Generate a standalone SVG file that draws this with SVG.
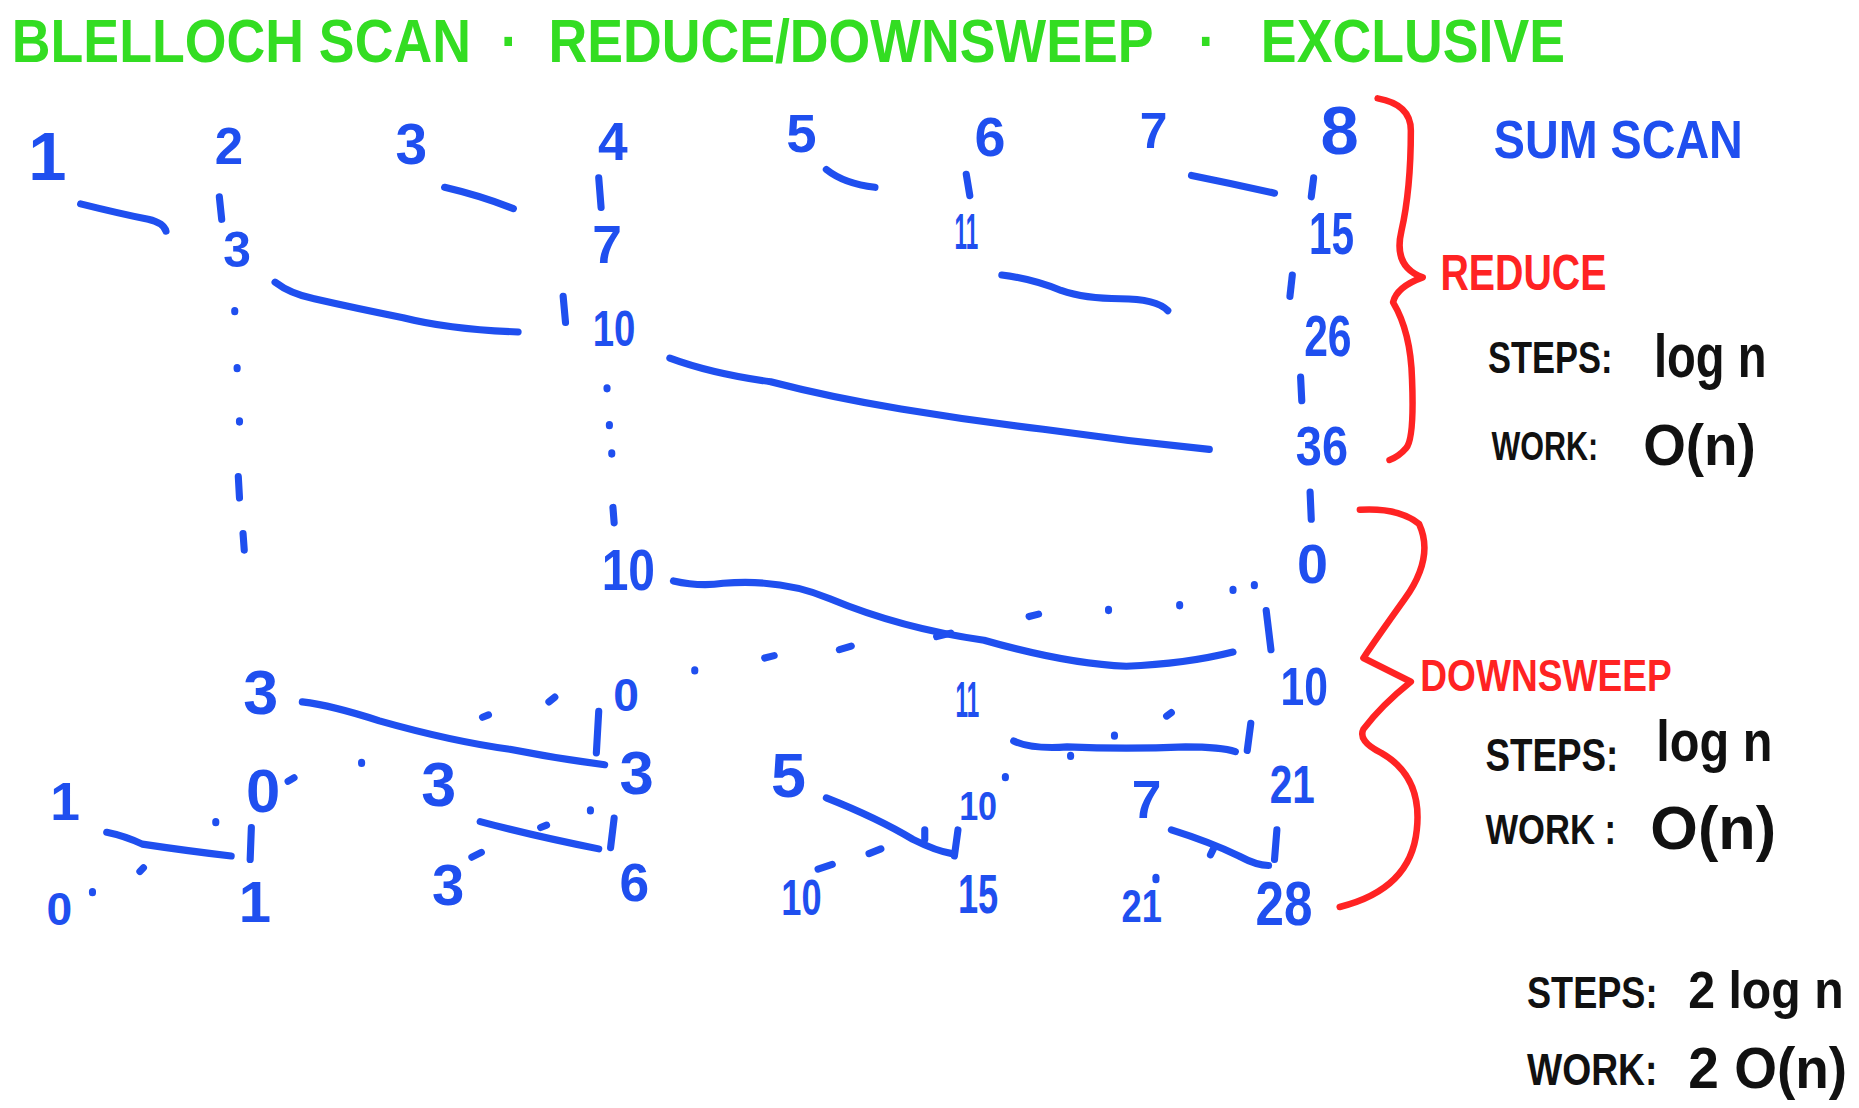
<svg xmlns="http://www.w3.org/2000/svg" width="1859" height="1108" viewBox="0 0 1859 1108">
<style>
.d{font-family:"Liberation Sans",Arial,sans-serif;font-weight:bold;fill:#1f4fef;text-anchor:middle}
.t{font-family:"Liberation Sans",Arial,sans-serif;font-weight:bold}
.g{fill:#33dd22}.r{fill:#ff2323}.b{fill:#1f4fef}.k{fill:#111}
.s{fill:none;stroke:#1f4fef;stroke-width:6;stroke-linecap:round;stroke-linejoin:round}
.dot{fill:none;stroke:#1f4fef;stroke-width:6;stroke-linecap:round}
.br{fill:none;stroke:#ff2323;stroke-width:5.5;stroke-linecap:round;stroke-linejoin:round}
</style>
<rect width="1859" height="1108" fill="#fff"/>
<g transform="scale(1.18559)">
<g id="title">
<text class="t g" x="10" y="52" font-size="52" textLength="1310" lengthAdjust="spacingAndGlyphs">BLELLOCH SCAN&#160;&#160;·&#160;&#160;REDUCE/DOWNSWEEP&#160;&#160;&#160;·&#160;&#160;&#160;EXCLUSIVE</text>
</g>
<g id="connectors">
<path class="s" d="M68,172 Q100,180 125,185 Q138,188 140,195"/>
<path class="s" d="M185,166 L187,185"/>
<path class="s" d="M375,158 Q405,165 433,176"/>
<path class="s" d="M505,150 L507,175"/>
<path class="s" d="M697,143 Q712,155 738,158"/>
<path class="s" d="M815,147 L818,165"/>
<path class="s" d="M1005,148 Q1040,155 1075,163"/>
<path class="s" d="M1108,150 L1106,166"/>
<path class="s" d="M232,238 Q245,248 265,252 Q300,260 340,268 Q380,278 437,280"/>
<path class="s" d="M475,250 L477,272"/>
<path class="s" d="M845,232 Q870,235 895,245 Q915,252 945,252 Q975,252 985,262"/>
<path class="s" d="M1090,232 L1088,250"/>
<path class="s" d="M565,302 Q600,315 650,322 Q700,335 760,345 Q820,355 880,362 Q950,372 1020,379"/>
<path class="s" d="M1097,318 L1098,338"/>
<path class="dot" d="M198,262 l0,1 M200,310 l0,1 M202,355 l0,1 M201,402 l1,18 M205,450 l1,14"/>
<path class="dot" d="M512,327 l0,1 M514,358 l0,1 M516,382 l0,1 M517,428 l1,13"/>
<path class="s" d="M1105,415 L1106,438"/>
<path class="s" d="M568,490 Q590,495 610,492 Q660,488 700,505 Q760,530 830,540 Q900,560 950,562 Q1000,560 1040,550"/>
<path class="s" d="M790,537 l12,-3"/>
<path class="dot" d="M1058,493 l0,1 M1040,497 l0,1 M995,510 l0,1 M935,514 l0,1 M868,520 l8,-2 M708,548 l10,-3 M645,555 l8,-2 M586,565 l0,1"/>
<path class="s" d="M1068,515 L1072,548"/>
<path class="s" d="M255,592 Q280,595 320,608 Q380,625 430,632 Q470,640 510,645"/>
<path class="dot" d="M463,592 l5,-4 M407,605 l5,-2"/>
<path class="s" d="M505,600 L503,635"/>
<path class="s" d="M855,625 Q870,632 900,630 Q950,632 1000,630 Q1030,630 1042,634"/>
<path class="dot" d="M984,604 l4,-3 M940,620 l0,1 M903,637 l0,1 M848,655 l0,1"/>
<path class="s" d="M1055,610 L1052,633"/>
<path class="s" d="M90,702 Q105,705 120,712 Q160,718 195,722"/>
<path class="s" d="M212,698 L211,725"/>
<path class="dot" d="M182,693 l0,1 M118,735 l3,-3 M78,752 l0,1 M243,659 l5,-3 M305,643 l0,1"/>
<path class="s" d="M405,693 Q450,705 505,716"/>
<path class="s" d="M518,690 L515,715"/>
<path class="dot" d="M498,683 l0,1 M456,698 l5,-2 M398,723 l8,-4"/>
<path class="s" d="M697,673 Q740,690 770,708 Q790,718 803,720"/>
<path class="s" d="M780,700 l0,8"/>
<path class="s" d="M808,700 L805,722"/>
<path class="dot" d="M690,733 l12,-4 M733,720 l10,-4"/>
<path class="s" d="M988,700 Q1020,710 1045,722 Q1060,730 1070,730"/>
<path class="s" d="M1024,715 l-3,6"/>
<path class="s" d="M1077,700 L1075,725"/>
<path class="dot" d="M975,740 l0,2"/>
</g>
<g id="numbers">
<text class="d" x="40" y="152" font-size="58">1</text>
<text class="d" x="193" y="138" font-size="43">2</text>
<text class="d" x="347" y="138" font-size="48">3</text>
<text class="d" x="517" y="135" font-size="45">4</text>
<text class="d" x="676" y="128" font-size="46">5</text>
<text class="d" x="835" y="132" font-size="47">6</text>
<text class="d" x="973" y="125" font-size="42">7</text>
<text class="d" x="1130" y="130" font-size="58">8</text>
<text class="d" x="200" y="225" font-size="42">3</text>
<text class="d" x="512" y="222" font-size="45">7</text>
<text class="d" x="815" y="210" font-size="42" textLength="20" lengthAdjust="spacingAndGlyphs">11</text>
<text class="d" x="1123" y="214" font-size="50" textLength="38" lengthAdjust="spacingAndGlyphs">15</text>
<text class="d" x="518" y="292" font-size="42" textLength="36" lengthAdjust="spacingAndGlyphs">10</text>
<text class="d" x="1120" y="300" font-size="49" textLength="40" lengthAdjust="spacingAndGlyphs">26</text>
<text class="d" x="1115" y="392" font-size="47" textLength="44" lengthAdjust="spacingAndGlyphs">36</text>
<text class="d" x="1107" y="492" font-size="47">0</text>
<text class="d" x="530" y="498" font-size="49" textLength="45" lengthAdjust="spacingAndGlyphs">10</text>
<text class="d" x="1100" y="595" font-size="46" textLength="40" lengthAdjust="spacingAndGlyphs">10</text>
<text class="d" x="220" y="602" font-size="53">3</text>
<text class="d" x="528" y="600" font-size="39">0</text>
<text class="d" x="816" y="605" font-size="42" textLength="20" lengthAdjust="spacingAndGlyphs">11</text>
<text class="d" x="537" y="670" font-size="52">3</text>
<text class="d" x="1090" y="677" font-size="45" textLength="38" lengthAdjust="spacingAndGlyphs">21</text>
<text class="d" x="55" y="692" font-size="45">1</text>
<text class="d" x="222" y="685" font-size="52">0</text>
<text class="d" x="370" y="680" font-size="53">3</text>
<text class="d" x="665" y="672" font-size="53">5</text>
<text class="d" x="825" y="692" font-size="34" textLength="32" lengthAdjust="spacingAndGlyphs">10</text>
<text class="d" x="967" y="690" font-size="45">7</text>
<text class="d" x="50" y="780" font-size="39">0</text>
<text class="d" x="215" y="778" font-size="49">1</text>
<text class="d" x="378" y="763" font-size="49">3</text>
<text class="d" x="535" y="760" font-size="45">6</text>
<text class="d" x="676" y="772" font-size="42" textLength="34" lengthAdjust="spacingAndGlyphs">10</text>
<text class="d" x="825" y="770" font-size="47" textLength="34" lengthAdjust="spacingAndGlyphs">15</text>
<text class="d" x="963" y="778" font-size="39" textLength="34" lengthAdjust="spacingAndGlyphs">21</text>
<text class="d" x="1083" y="780" font-size="53" textLength="48" lengthAdjust="spacingAndGlyphs">28</text>
</g>
<g id="brace-reduce">
<path class="br" d="M1162,83 Q1190,88 1190,110 Q1190,160 1182,195 Q1175,225 1200,234 Q1178,242 1175,255 Q1190,280 1191,320 Q1193,370 1186,378 Q1180,385 1172,388"/>
<text class="t r" x="1215" y="245" font-size="42" textLength="140" lengthAdjust="spacingAndGlyphs">REDUCE</text>
</g>
<g id="brace-downsweep">
<path class="br" d="M1147,430 Q1180,428 1197,442 Q1210,470 1185,505 Q1160,540 1150,555 Q1170,565 1190,575 Q1165,595 1150,615 Q1145,625 1165,635 Q1200,655 1195,700 Q1190,750 1130,765"/>
<text class="t r" x="1198" y="583" font-size="38" textLength="212" lengthAdjust="spacingAndGlyphs">DOWNSWEEP</text>
</g>
<g id="sum-scan">
<text class="t b" x="1260" y="133" font-size="46" textLength="210" lengthAdjust="spacingAndGlyphs">SUM SCAN</text>
</g>
<g id="reduce-cost">
<text class="t k" x="1255" y="315" font-size="38" textLength="105" lengthAdjust="spacingAndGlyphs">STEPS:</text>
<text class="t k" x="1395" y="318" font-size="52" textLength="95" lengthAdjust="spacingAndGlyphs">log n</text>
<text class="t k" x="1258" y="388" font-size="35" textLength="90" lengthAdjust="spacingAndGlyphs">WORK:</text>
<text class="t k" x="1386" y="392" font-size="48" textLength="95" lengthAdjust="spacingAndGlyphs">O(n)</text>
</g>
<g id="downsweep-cost">
<text class="t k" x="1253" y="650" font-size="39" textLength="112" lengthAdjust="spacingAndGlyphs">STEPS:</text>
<text class="t k" x="1397" y="642" font-size="48" textLength="98" lengthAdjust="spacingAndGlyphs">log n</text>
<text class="t k" x="1253" y="712" font-size="36" textLength="110" lengthAdjust="spacingAndGlyphs">WORK :</text>
<text class="t k" x="1392" y="716" font-size="52" textLength="106" lengthAdjust="spacingAndGlyphs">O(n)</text>
</g>
<g id="total-cost">
<text class="t k" x="1288" y="850" font-size="37" textLength="110" lengthAdjust="spacingAndGlyphs">STEPS:</text>
<text class="t k" x="1424" y="850" font-size="44" textLength="131" lengthAdjust="spacingAndGlyphs">2 log n</text>
<text class="t k" x="1288" y="915" font-size="37" textLength="110" lengthAdjust="spacingAndGlyphs">WORK:</text>
<text class="t k" x="1424" y="918" font-size="48" textLength="134" lengthAdjust="spacingAndGlyphs">2 O(n)</text>
</g>
</g>
</svg>
